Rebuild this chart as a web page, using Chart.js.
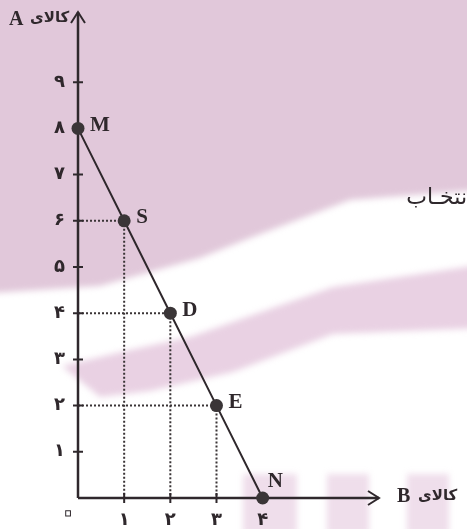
<!DOCTYPE html>
<html>
<head>
<meta charset="utf-8">
<script src="https://cdn.jsdelivr.net/npm/chart.js@4.4.0/dist/chart.umd.min.js"></script>
<style>
  html, body { margin: 0; padding: 0; background: #fff; }
  #wrap { width: 467px; height: 529px; }
</style>
</head>
<body>
<div id="wrap"><canvas id="ppf" width="467" height="529"></canvas></div>
<script>
// data
const pointNames = ['M', 'S', 'D', 'E', 'N'];
const goodB = [0, 1, 2, 3, 4];
const goodA = [8, 6, 4, 2, 0];
const yTicks = [1, 2, 3, 4, 5, 6, 7, 8, 9];
const xTicks = [1, 2, 3, 4];
const yTickLabels = ['۱', '۲', '۳', '۴', '۵', '۶', '۷', '۸', '۹'];
const xTickLabels = ['۱', '۲', '۳', '۴'];
const zeroLabel = '۰';
const yTitle = 'کالای';
const yTitleLetter = 'A';
const xTitle = 'کالای';
const xTitleLetter = 'B';
const stray = 'نتخـاب';

const ink = '#2f282c';
const pink = 'rgb(225,200,218)';

function poly(c, pts) {
  c.beginPath();
  c.moveTo(pts[0][0], pts[0][1]);
  for (let i = 1; i < pts.length; i++) c.lineTo(pts[i][0], pts[i][1]);
  c.closePath();
  c.fill();
}

const drawing = {
  id: 'drawing',
  beforeDraw(chart) {
    const c = chart.ctx;
    c.save();
    c.fillStyle = '#fff';
    c.fillRect(0, 0, chart.width, chart.height);
    c.filter = 'blur(3px)';
    c.fillStyle = pink;
    // upper pink block
    poly(c, [[-10, -10], [480, -10], [480, 190], [350, 200], [250, 238], [200, 258],
             [100, 286], [-10, 293]]);
    // streak rising to the right
    c.fillStyle = 'rgba(228,198,220,0.8)';
    poly(c, [[62, 366], [130, 350], [190, 337], [267, 310], [333, 287], [480, 265],
             [480, 328], [333, 334], [233, 372], [150, 391], [100, 397]]);
    // faint patches along the bottom
    c.fillStyle = 'rgba(228,200,222,0.6)';
    c.fillRect(243, 474, 54, 60);
    c.fillRect(327, 474, 42, 60);
    c.fillRect(407, 474, 42, 60);
    c.restore();
  },
  beforeDatasetsDraw(chart) {
    const c = chart.ctx;
    const xs = chart.scales.x, ys = chart.scales.y;
    const x0 = xs.getPixelForValue(0), y0 = ys.getPixelForValue(0);
    c.save();
    // dotted guides
    c.strokeStyle = '#3a3436';
    c.lineWidth = 2;
    c.setLineDash([2, 2]);
    for (let i = 1; i < pointNames.length - 1; i++) {
      const px = xs.getPixelForValue(goodB[i]), py = ys.getPixelForValue(goodA[i]);
      c.beginPath();
      c.moveTo(x0, py); c.lineTo(px, py);
      c.moveTo(px, py); c.lineTo(px, y0);
      c.stroke();
    }
    c.setLineDash([]);
    // axes
    c.strokeStyle = ink;
    c.lineWidth = 2.5;
    const top = chart.chartArea.top, right = chart.chartArea.right;
    c.beginPath();
    c.moveTo(x0, y0); c.lineTo(x0, top);
    c.moveTo(x0, y0); c.lineTo(right, y0);
    c.stroke();
    // arrow heads
    c.lineWidth = 2;
    c.beginPath();
    c.moveTo(x0 - 7, top + 11); c.lineTo(x0, top); c.lineTo(x0 + 7, top + 11);
    c.moveTo(right - 11, y0 - 7); c.lineTo(right, y0); c.lineTo(right - 11, y0 + 7);
    c.stroke();
    // tick marks
    c.beginPath();
    yTicks.forEach(v => {
      const py = ys.getPixelForValue(v);
      c.moveTo(x0 - 5, py); c.lineTo(x0 + 5, py);
    });
    xTicks.forEach(v => {
      const px = xs.getPixelForValue(v);
      c.moveTo(px, y0 - 5); c.lineTo(px, y0 + 5);
    });
    c.stroke();
    c.restore();
  },
  afterDatasetsDraw(chart) {
    const c = chart.ctx;
    const xs = chart.scales.x, ys = chart.scales.y;
    const x0 = xs.getPixelForValue(0), y0 = ys.getPixelForValue(0);
    const top = chart.chartArea.top;
    c.save();
    c.fillStyle = ink;
    c.font = 'bold 21px "Liberation Serif"';
    c.textBaseline = 'middle';
    c.textAlign = 'left';
    pointNames.forEach((n, i) => {
      const px = xs.getPixelForValue(goodB[i]), py = ys.getPixelForValue(goodA[i]);
      if (i === pointNames.length - 1) c.fillText(n, px + 5, py - 16);
      else c.fillText(n, px + 12, py - 3);
    });
    // axis titles
    c.font = 'bold 20px "Liberation Serif"';
    c.fillText(yTitleLetter, 9, top + 8);
    c.fillText(xTitleLetter, 397, y0 - 1);
    c.font = 'bold 15px "DejaVu Sans"';
    c.fillText(yTitle, 30, top + 6);
    c.fillText(xTitle, 418, y0 - 2);
    // origin: hollow zero
    c.font = '44px "DejaVu Sans"';
    c.textAlign = 'center';
    c.strokeStyle = ink;
    c.lineWidth = 1;
    c.strokeText(zeroLabel, x0 - 10, y0 + 17);
    // stray caption text on the right edge
    c.font = '22px "DejaVu Sans"';
    c.textAlign = 'right';
    c.fillText(stray, 467, 198);
    c.restore();
  }
};

new Chart(document.getElementById('ppf'), {
  type: 'scatter',
  data: {
    datasets: [{
      data: goodB.map((b, i) => ({ x: b, y: goodA[i] })),
      showLine: true,
      borderColor: ink,
      borderWidth: 2,
      pointRadius: 6.5,
      pointHoverRadius: 6.5,
      pointBorderWidth: 0,
      pointBackgroundColor: '#3a3537',
      clip: false
    }]
  },
  options: {
    responsive: false,
    animation: false,
    devicePixelRatio: 1,
    layout: { padding: { top: 12, right: 88, left: 0, bottom: 0 } },
    plugins: { legend: { display: false }, tooltip: { enabled: false } },
    scales: {
      x: {
        type: 'linear', min: 0, max: 6.52,
        afterFit(s) { s.height = 31; s.paddingLeft = 0; s.paddingRight = 0; },
        afterBuildTicks(s) { s.ticks = xTicks.map(v => ({ value: v })); },
        grid: { display: false, drawTicks: false },
        border: { display: false },
        ticks: {
          padding: 12,
          color: ink,
          font: { family: 'DejaVu Sans', size: 18, weight: 'bold' },
          callback: v => xTickLabels[xTicks.indexOf(v)],
          maxRotation: 0
        }
      },
      y: {
        type: 'linear', min: 0, max: 10.52,
        afterFit(s) { s.width = 78; s.paddingTop = 0; s.paddingBottom = 0; },
        afterBuildTicks(s) { s.ticks = yTicks.map(v => ({ value: v })); },
        grid: { display: false, drawTicks: false },
        border: { display: false },
        ticks: {
          padding: 13,
          color: ink,
          font: { family: 'DejaVu Sans', size: 18, weight: 'bold' },
          callback: v => yTickLabels[yTicks.indexOf(v)]
        }
      }
    }
  },
  plugins: [drawing]
});
</script>
</body>
</html>
